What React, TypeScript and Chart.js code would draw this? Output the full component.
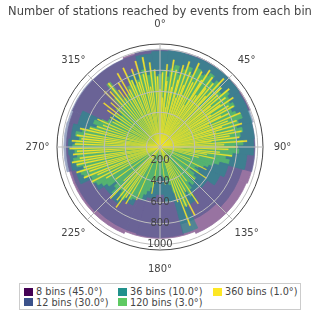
import React, { useEffect, useRef } from 'react';
import { Chart, registerables } from 'chart.js';

Chart.register(...registerables);

const TITLE = 'Number of stations reached by events from each bin';
const ANGLE_LABELS = ['0°', '45°', '90°', '135°', '180°', '225°', '270°', '315°'];
const RADIAL_TICKS = [200, 400, 600, 800, 1000];
const R_MIN = 69;
const R_MAX = 1050;

const SERIES_NAMES = ['8 bins (45.0°)', '12 bins (30.0°)', '36 bins (10.0°)', '120 bins (3.0°)', '360 bins (1.0°)'];
const SERIES_COLORS = ['#440154', '#3b528b', '#21918c', '#5ec962', '#fde725'];
const SERIES_ALPHA = [0.55, 0.5, 0.6, 0.7, 0.9];
const SERIES_BORDERS = [0.8, 0.8, 0.8, 0.8, 0.25];

// bins centred on 0°, 45°, ... (clockwise from north)
const BINS_8 = [990, 1000, 970, 960, 940, 960, 960, 970];
const BINS_12 = [1000, 1000, 990, 975, 880, 830, 930, 920, 940, 985, 980, 975];
const BINS_36 = [
  980, 990, 985, 990, 995, 990, 980, 975, 970, 960,
  900, 740, 700, 620, 600, 680, 920, 600, 520, 560,
  600, 680, 740, 720, 780, 900, 930, 940, 920, 880,
  620, 560, 600, 640, 820, 960,
];
const BINS_120 = [
  760, 800, 740, 820, 860, 780, 840, 880, 820, 900, 860, 880, 920, 860, 900, 880, 840, 900, 870, 850,
  880, 830, 860, 900, 850, 820, 870, 840, 800, 860, 780, 820, 760, 700, 740, 650, 600, 560, 520, 480,
  450, 500, 420, 480, 520, 460, 540, 500, 560, 620, 540, 600, 680, 580, 520, 440, 400, 380, 350, 330,
  340, 360, 380, 420, 460, 500, 540, 600, 560, 620, 640, 600, 680, 660, 620, 700, 640, 600, 680, 720,
  760, 800, 780, 840, 860, 820, 880, 900, 860, 880, 900, 870, 840, 880, 820, 760, 700, 740, 680, 620,
  560, 520, 600, 540, 620, 580, 700, 850, 640, 580, 660, 720, 760, 700, 740, 780, 820, 760, 800, 740,
];
const BINS_360 = [
  620, 0, 780, 540, 0, 860, 700, 0, 450, 910, 0, 650, 820, 0, 0, 730, 880, 0, 560, 930,
  0, 700, 840, 0, 610, 950, 0, 760, 0, 890, 530, 0, 820, 940, 0, 670, 0, 900, 780, 0,
  860, 0, 720, 960, 0, 600, 880, 0, 810, 0, 930, 690, 0, 850, 0, 770, 910, 0, 640, 830,
  0, 870, 0, 720, 800, 0, 580, 900, 0, 760, 0, 840, 690, 0, 880, 0, 620, 790, 0, 860,
  0, 740, 0, 830, 560, 0, 900, 0, 680, 0, 810, 0, 720, 0, 0, 640, 0, 760, 0, 520,
  0, 0, 600, 0, 0, 450, 0, 0, 0, 0, 0, 0, 380, 0, 0, 0, 560, 0, 0, 0,
  0, 0, 0, 0, 600, 0, 0, 0, 0, 0, 0, 0, 0, 520, 0, 0, 0, 0, 0, 0,
  0, 0, 480, 0, 0, 0, 720, 0, 0, 0, 560, 0, 0, 800, 0, 0, 690, 0, 0, 870,
  0, 0, 620, 0, 0, 0, 0, 0, 0, 0, 0, 0, 430, 0, 0, 0, 0, 0, 0, 0,
  0, 0, 0, 0, 0, 0, 0, 0, 0, 0, 520, 0, 0, 0, 0, 0, 0, 0, 0, 0,
  0, 0, 0, 0, 620, 0, 0, 0, 0, 0, 0, 700, 0, 0, 650, 0, 780, 0, 0, 720,
  0, 600, 0, 0, 750, 0, 0, 540, 0, 0, 0, 0, 0, 0, 590, 0, 0, 0, 0, 0,
  660, 0, 0, 800, 0, 0, 720, 0, 850, 0, 0, 780, 0, 900, 0, 820, 0, 0, 880, 0,
  920, 0, 840, 0, 0, 900, 0, 860, 0, 930, 0, 0, 880, 0, 910, 0, 820, 0, 870, 0,
  800, 0, 0, 850, 0, 760, 0, 0, 700, 0, 0, 650, 0, 0, 720, 0, 0, 0, 580, 0,
  0, 620, 0, 0, 0, 680, 0, 0, 750, 0, 0, 0, 700, 0, 0, 820, 0, 0, 780, 0,
  0, 850, 0, 0, 740, 0, 0, 800, 0, 0, 880, 0, 690, 0, 0, 900, 0, 760, 0, 0,
  860, 0, 720, 0, 920, 0, 0, 780, 0, 940, 0, 650, 0, 880, 0, 0, 810, 0, 740, 0,
];

const SERIES_VALUES = [BINS_8, BINS_12, BINS_36, BINS_120, BINS_360];

const FONT = '"DejaVu Sans", Verdana, sans-serif';
const GRID = '#bdbdbd';
const TEXT = '#444';

// bins are centred on their angle: split bin 0 into two half-wedges (start and end)
function centredDataset(values: number[], idx: number) {
  const n = values.length;
  const w = 360 / n;
  return {
    label: SERIES_NAMES[idx],
    data: [...values, values[0]],
    backgroundColor: SERIES_COLORS[idx],
    borderColor: SERIES_COLORS[idx],
    borderWidth: SERIES_BORDERS[idx],
    layerAlpha: SERIES_ALPHA[idx],
    angle: (c: any) => (c.dataIndex === 0 || c.dataIndex === n ? w / 2 : w),
  };
}

// draw each dataset as one translucent layer (no seams between neighbouring wedges)
const layerPlugin = {
  id: 'translucentLayers',
  beforeDatasetDraw(chart: any, args: any) {
    const canvas = chart.canvas;
    const off = document.createElement('canvas');
    off.width = canvas.width;
    off.height = canvas.height;
    const octx = off.getContext('2d') as CanvasRenderingContext2D;
    const dpr = chart.currentDevicePixelRatio || 1;
    octx.setTransform(dpr, 0, 0, dpr, 0, 0);
    args.meta.data.forEach((el: any) => {
      if (!el.hidden) el.draw(octx, chart.chartArea);
    });
    const ctx = chart.ctx;
    ctx.save();
    ctx.setTransform(1, 0, 0, 1, 0, 0);
    ctx.globalAlpha = chart.data.datasets[args.index].layerAlpha ?? 1;
    ctx.drawImage(off, 0, 0);
    ctx.restore();
    return false;
  },
};

const labelPlugin = {
  id: 'polarLabels',
  afterDraw(chart: any) {
    const scale = chart.scales.r;
    const ctx = chart.ctx;
    ctx.save();
    ctx.fillStyle = TEXT;
    ctx.textAlign = 'center';
    ctx.textBaseline = 'middle';
    ctx.font = '10px ' + FONT;
    RADIAL_TICKS.forEach((v) => {
      const p = scale.getPointPosition(4, scale.getDistanceFromCenterForValue(v));
      ctx.fillText(String(v), p.x, p.y);
    });
    ANGLE_LABELS.forEach((lab, i) => {
      const p = scale.getPointPosition(i, scale.drawingArea + 19.5);
      ctx.fillText(lab, p.x, p.y);
    });
    ctx.restore();
  },
};

function Legend() {
  const order = [0, 2, 4, 1, 3];
  const cols = [4, 98, 193];
  return (
    <div
      style={{
        position: 'absolute',
        left: 19,
        top: 283,
        width: 280,
        height: 25,
        border: '1px solid #cccccc',
        background: '#fff',
        fontFamily: FONT,
        fontSize: 9.7,
        color: TEXT,
      }}
    >
      {order.map((si, k) => {
        const col = k % 3;
        const row = Math.floor(k / 3);
        return (
          <div
            key={si}
            style={{
              position: 'absolute',
              left: cols[col],
              top: 2 + row * 10.7,
              height: 11,
              display: 'flex',
              alignItems: 'center',
              whiteSpace: 'nowrap',
              lineHeight: '11px',
            }}
          >
            <span style={{ display: 'inline-block', width: 9, height: 8, background: SERIES_COLORS[si], marginRight: 3 }} />
            <span>{SERIES_NAMES[si]}</span>
          </div>
        );
      })}
    </div>
  );
}

export default function App() {
  const ref = useRef<HTMLCanvasElement>(null);
  useEffect(() => {
    if (!ref.current) return;
    const datasets = SERIES_VALUES.map((v, i) => centredDataset(v, i)).reverse();
    const chart = new Chart(ref.current, {
      type: 'polarArea',
      data: { labels: ANGLE_LABELS, datasets: datasets as any },
      plugins: [layerPlugin, labelPlugin],
      options: {
        responsive: false,
        animation: false,
        layout: { padding: { left: 0, right: 0, top: 0, bottom: 65.5 } },
        plugins: {
          legend: { display: false },
          tooltip: { enabled: false },
          title: {
            display: true,
            text: TITLE,
            color: TEXT,
            font: { family: FONT, size: 11.5, weight: 'normal' },
            padding: { top: 5, bottom: 24.7 },
          },
        },
        scales: {
          r: {
            min: R_MIN,
            max: R_MAX,
            startAngle: 0,
            afterBuildTicks: (scale: any) => {
              scale.ticks = [R_MIN, ...RADIAL_TICKS, R_MAX].map((v) => ({ value: v }));
            },
            ticks: { display: false },
            pointLabels: { display: false },
            angleLines: { display: true, color: GRID, lineWidth: 1 },
            grid: {
              circular: true,
              z: 1,
              lineWidth: 1,
              color: (c: any) => (c.tick && c.tick.value === R_MAX ? '#444' : GRID),
            },
          },
        },
      } as any,
    });
    return () => chart.destroy();
  }, []);
  return (
    <div style={{ position: 'absolute', left: 0, top: 0, width: 320, height: 316, background: '#fff' }}>
      <canvas ref={ref} width={320} height={316} style={{ width: 320, height: 316, display: 'block' }} />
      <Legend />
    </div>
  );
}
